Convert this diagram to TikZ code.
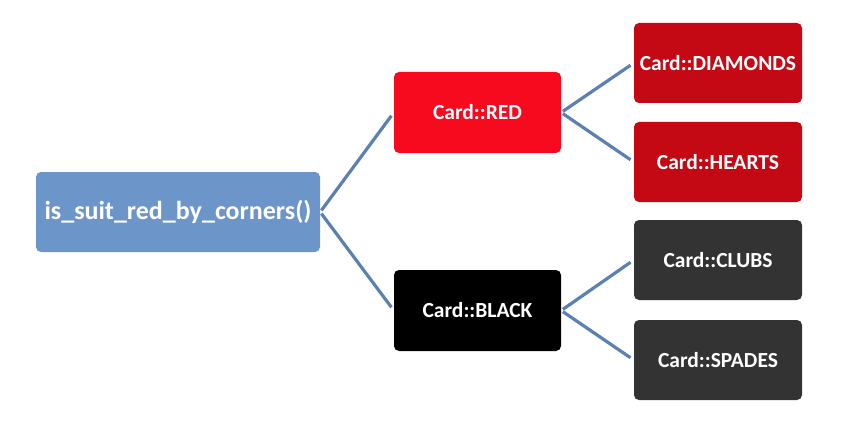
\documentclass[tikz,border=0pt]{standalone}
\usepackage{fontspec}
\setmainfont{Carlito}
\usepackage{tikz}
\usetikzlibrary{calc}
\definecolor{rootblue}{HTML}{6C95C9}
\definecolor{cardred}{HTML}{F70A1E}
\definecolor{suitred}{HTML}{C40814}
\definecolor{suitgray}{HTML}{333333}
\definecolor{linkblue}{HTML}{5B80B2}
\tikzset{
  box/.style={rectangle, rounded corners=5pt, inner sep=0pt, text=white,
    font=\bfseries\fontsize{21.5}{24}\selectfont},
  link/.style={draw=linkblue, line width=3.2pt, shorten <=2pt, shorten >=4pt}
}

\begin{document}
\begin{tikzpicture}[x=1pt,y=-1pt]
\useasboundingbox (0,0) rectangle (843,425);
% root
\node[box, fill=rootblue, minimum width=284pt, minimum height=80pt,
  font=\bfseries\fontsize{26}{30}\selectfont] (root) at (178,212) {is\_suit\_red\_by\_corners()};
% colours
\node[box, fill=cardred, minimum width=167pt, minimum height=81pt] (red) at (477.5,112.5) {Card::RED};
\node[box, fill=black, minimum width=167pt, minimum height=81pt] (black) at (477.5,310.5) {Card::BLACK};
% suits
\node[box, fill=suitred, minimum width=168pt, minimum height=80pt] (diamonds) at (718,63) {Card::DIAMONDS};
\node[box, fill=suitred, minimum width=168pt, minimum height=80pt] (hearts) at (718,162) {Card::HEARTS};
\node[box, fill=suitgray, minimum width=168pt, minimum height=80pt] (clubs) at (718,260) {Card::CLUBS};
\node[box, fill=suitgray, minimum width=168pt, minimum height=80pt] (spades) at (718,360) {Card::SPADES};

\draw[link] (root.east) -- (red.west);
\draw[link] (root.east) -- (black.west);
\draw[link] (red.east) -- (diamonds.west);
\draw[link] (red.east) -- (hearts.west);
\draw[link] (black.east) -- (clubs.west);
\draw[link] (black.east) -- (spades.west);
\end{tikzpicture}
\end{document}
